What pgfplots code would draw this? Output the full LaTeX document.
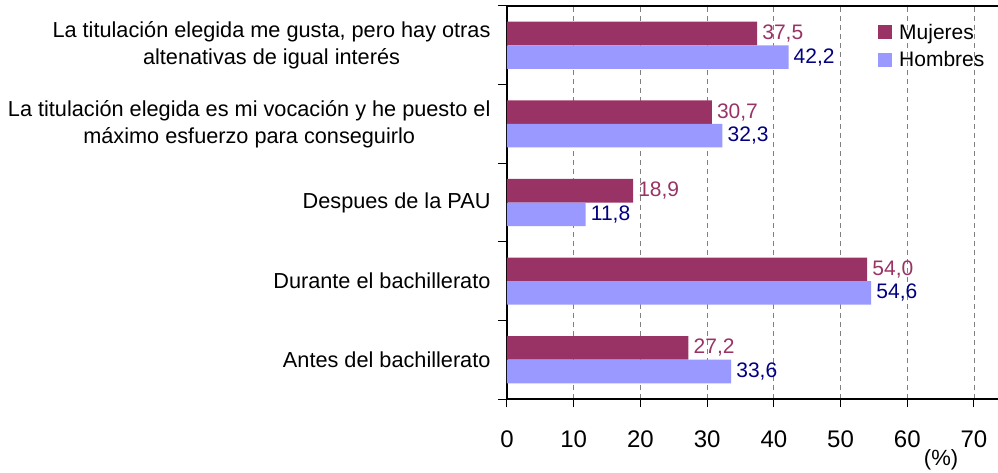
\documentclass[border=0pt]{standalone}
\usepackage{pgfplots}
\pgfplotsset{compat=1.18}
\usepackage{fontspec}
\setmainfont{Liberation Sans}
\definecolor{muj}{HTML}{993366}
\definecolor{hom}{HTML}{9999FF}
\definecolor{homtxt}{HTML}{000080}
\begin{document}
\begin{tikzpicture}
\begin{axis}[
  at={(507pt,73pt)}, anchor=south west,
  scale only axis, width=491pt, height=393pt,
  xmin=0, xmax=73.6, ymin=-0.5, ymax=4.5,
  xbar, bar width=0.3,
  axis x line*=box, axis y line*=left,
  axis line style={line width=1.3pt, black},
  xtick={0,10,...,70}, xtick pos=bottom,
  ytick={0,1,2,3,4}, ytick pos=left,
  minor ytick={-0.5,0.5,1.5,2.5,3.5,4.5},
  yticklabels={Antes del bachillerato, Durante el bachillerato, Despues de la PAU,
    {La titulación elegida es mi vocación y he puesto el\\máximo esfuerzo para conseguirlo},
    {La titulación elegida me gusta, pero hay otras\\altenativas de igual interés}},
  tick align=outside,
  major tick length=8pt, minor tick length=9pt,
  major x tick style={black, line width=1pt},
  major y tick style={draw=none},
  minor y tick style={black, line width=1pt},
  xmajorgrids, major grid style={gray, dash pattern=on 5pt off 4pt, line width=0.8pt},
  /pgf/number format/assume math mode=true,
  xticklabel style={font=\fontsize{24}{28}\selectfont, yshift=-20pt},
  yticklabel style={font=\fontsize{21.7}{27}\selectfont, align=center, xshift=-5pt},
  xlabel={(\%)},
  xlabel style={at={(axis description cs:0.884,0)}, anchor=center, yshift=-61pt, font=\fontsize{22}{26}\selectfont},
  point meta=x,
  nodes near coords={\pgfmathprintnumber[fixed,fixed zerofill,precision=1,use comma]{\pgfplotspointmeta}},
  legend style={at={(rel axis cs:0.7556,0.96)}, anchor=north west, draw=none, fill=none,
    font=\fontsize{21}{25}\selectfont, row sep=7pt, inner sep=0pt,
    /tikz/every odd column/.append style={column sep=5pt}},
  legend cell align=left,
  legend image code/.code={\path[#1,draw=none] (0pt,-7pt) rectangle (14pt,7pt);},
]
\addplot[fill=muj, draw=none, bar shift=0.15,
  nodes near coords style={color=muj, font=\fontsize{21}{25}\selectfont, anchor=west, inner sep=0pt, xshift=5pt}]
  coordinates {(27.2,0) (54.0,1) (18.9,2) (30.7,3) (37.5,4)};
\addplot[fill=hom, draw=none, bar shift=-0.15,
  nodes near coords style={color=homtxt, font=\fontsize{21}{25}\selectfont, anchor=west, inner sep=0pt, xshift=5pt}]
  coordinates {(33.6,0) (54.6,1) (11.8,2) (32.3,3) (42.2,4)};
\legend{Mujeres,Hombres}
\end{axis}
\pgfresetboundingbox
\useasboundingbox (0,0) rectangle (998pt,472pt);
\end{tikzpicture}
\end{document}
